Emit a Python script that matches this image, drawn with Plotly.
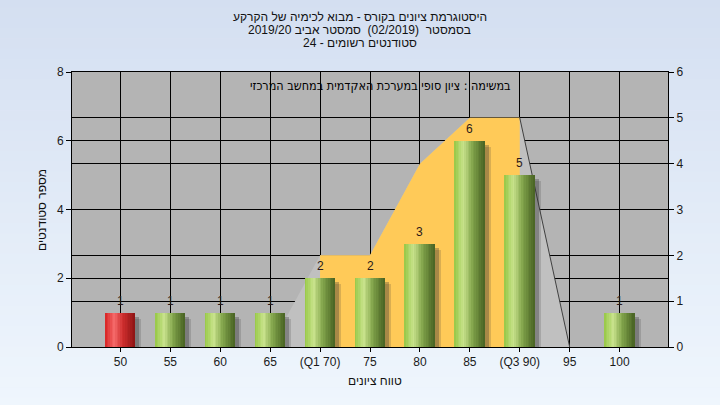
import plotly.graph_objects as go

# ---------------- data ----------------
categories = ["50", "55", "60", "65", "(Q1 70)", "75", "80", "85", "(Q3 90)", "95", "100"]
counts = [1, 1, 1, 1, 2, 2, 3, 6, 5, 0, 1]
failing = [True, False, False, False, False, False, False, False, False, False, False]

dist_categories = ["65", "(Q1 70)", "75", "80", "85", "(Q3 90)", "95"]
dist_values = [0, 2, 2, 4, 5, 5, 0]
iqr_categories = ["(Q1 70)", "75", "80", "85", "(Q3 90)"]
iqr_values = [2, 2, 4, 5, 5]
edge_categories = ["(Q3 90)", "95"]
edge_values = [5, 0]

title_lines = [
    "היסטוגרמת ציונים בקורס - מבוא לכימיה של הקרקע",
    "בסמסטר  (02/2019)  סמסטר אביב 2019/20",
    "סטודנטים רשומים - 24",
]
legend_text = "במשימה : ציון סופי במערכת האקדמית במחשב המרכזי"
x_title = "טווח ציונים"
y_title = "מספר סטודנטים"


def rtl(s):
    return "\u202b" + s + "\u202c"


FONT = "Liberation Sans, Arial, DejaVu Sans, sans-serif"

fig = go.Figure()

# distribution polygon (right axis)
fig.add_trace(go.Scatter(x=dist_categories, y=dist_values, fill="tozeroy", mode="none",
                         fillcolor="#c0c0c0", yaxis="y", hoverinfo="skip", showlegend=False))
fig.add_trace(go.Scatter(x=iqr_categories, y=iqr_values, fill="tozeroy", mode="none",
                         fillcolor="#ffca58", yaxis="y", hoverinfo="skip", showlegend=False))
fig.add_trace(go.Scatter(x=edge_categories, y=edge_values, mode="lines",
                         line=dict(color="#404040", width=1), yaxis="y",
                         hoverinfo="skip", showlegend=False))


def interp(stops, t):
    for (t0, c0), (t1, c1) in zip(stops, stops[1:]):
        if t0 <= t <= t1:
            f = (t - t0) / (t1 - t0)
            return "rgb(%d,%d,%d)" % tuple(round(a + (b - a) * f) for a, b in zip(c0, c1))
    return "rgb(%d,%d,%d)" % stops[-1][1]


green_stops = [(0.0, (150, 200, 70)), (0.3, (200, 226, 140)), (0.6, (130, 165, 75)), (1.0, (72, 98, 35))]
red_stops = [(0.0, (215, 35, 35)), (0.3, (245, 105, 105)), (0.6, (205, 45, 45)), (1.0, (140, 20, 20))]

BW = 0.6
# shadows
fig.add_trace(go.Bar(x=categories, y=counts, base=-0.12, offset=-BW / 2 + 0.08, width=BW,
                     marker=dict(color="rgba(50,50,50,0.30)", line=dict(width=0)),
                     yaxis="y2", hoverinfo="skip", showlegend=False))
fig.add_trace(go.Bar(x=categories, y=counts, base=-0.18, offset=-BW / 2 + 0.12, width=BW,
                     marker=dict(color="rgba(50,50,50,0.18)", line=dict(width=0)),
                     yaxis="y2", hoverinfo="skip", showlegend=False))

# gradient bar slices
N = 18
w = BW / N
for i in range(N):
    t = (i + 0.5) / N
    cols = [interp(red_stops, t) if f else interp(green_stops, t) for f in failing]
    fig.add_trace(go.Bar(x=categories, y=counts, offset=-BW / 2 + i * w, width=w * 1.05,
                         marker=dict(color=cols, line=dict(width=0)),
                         yaxis="y2", showlegend=False, hoverinfo="x+y"))

# background gradient bands
shapes = []
NB = 40
top_p, bot_p = 347 / 275 + 0.01, -58 / 275 - 0.01
c_top, c_bot = (212, 223, 241), (239, 246, 253)
for k in range(NB):
    f = k / (NB - 1)
    y1 = top_p + (bot_p - top_p) * k / NB
    y0 = top_p + (bot_p - top_p) * (k + 1) / NB
    col = "rgb(%d,%d,%d)" % tuple(round(a + (b - a) * f) for a, b in zip(c_top, c_bot))
    shapes.append(dict(type="rect", xref="paper", yref="paper", x0=-0.13, x1=1.1,
                       y0=y0 - 0.002, y1=y1, fillcolor=col, line=dict(width=0), layer="below"))
shapes.append(dict(type="rect", xref="paper", yref="paper", x0=0, x1=1, y0=0, y1=1,
                   fillcolor="#b4b4b4", line=dict(width=0), layer="below"))

annotations = []
# value labels above bars (x given as category index on the category axis)
for idx, v in enumerate(counts):
    if v:
        annotations.append(dict(x=idx, y=v, xref="x", yref="y2", text=str(v), showarrow=False,
                                xanchor="center", yanchor="bottom", yshift=3,
                                font=dict(family=FONT, size=12, color="#2b1a1a")))
for txt, ypx in zip(title_lines, [17, 30, 43]):
    annotations.append(dict(text=rtl(txt), xref="paper", yref="paper", x=0.483,
                            y=1 - (ypx - 72) / 275, showarrow=False, xanchor="center",
                            yanchor="middle", font=dict(family=FONT, size=12, color="#111111")))
annotations.append(dict(text=legend_text, xref="paper", yref="paper", x=0.518,
                        y=1 - (85 - 72) / 275, showarrow=False, xanchor="center", yanchor="middle",
                        font=dict(family="DejaVu Sans Condensed, DejaVu Sans, sans-serif",
                                  size=12.5, color="#000000")))
annotations.append(dict(text=rtl(x_title), xref="paper", yref="paper", x=(375 - 72) / 596,
                        y=1 - (381 - 72) / 275, showarrow=False, xanchor="center", yanchor="middle",
                        font=dict(family=FONT, size=12, color="#111111")))
annotations.append(dict(text=rtl(y_title), xref="paper", yref="paper", x=(42 - 72) / 596,
                        y=(347 - 210) / 275, showarrow=False, xanchor="center", yanchor="middle",
                        textangle=-90, font=dict(family=FONT, size=12, color="#111111")))

axis_common = dict(showgrid=True, gridcolor="black", gridwidth=1, showline=True,
                   linecolor="black", linewidth=1, zeroline=False, ticks="outside",
                   tickcolor="black", tickfont=dict(family=FONT, size=12, color="#1a1a1a"))

fig.update_layout(
    width=720, height=405,
    margin=dict(l=72, r=52, t=72, b=58),
    paper_bgcolor="#e2ebf8", plot_bgcolor="#b4b4b4",
    barmode="overlay", bargap=0,
    showlegend=False,
    xaxis=dict(type="category", categoryorder="array", categoryarray=categories,
               range=[-0.97, 10.97], mirror=True, ticklen=4, **axis_common),
    yaxis=dict(range=[0, 6], dtick=1, side="right", ticklen=5, **axis_common),
    yaxis2=dict(range=[0, 8], dtick=2, side="left", overlaying="y", ticklen=5, **axis_common),
    shapes=shapes,
    annotations=annotations,
)

fig.write_html("out.html", config={"displayModeBar": False},
               post_script="document.body.style.margin='0';document.body.style.overflow='hidden';")
